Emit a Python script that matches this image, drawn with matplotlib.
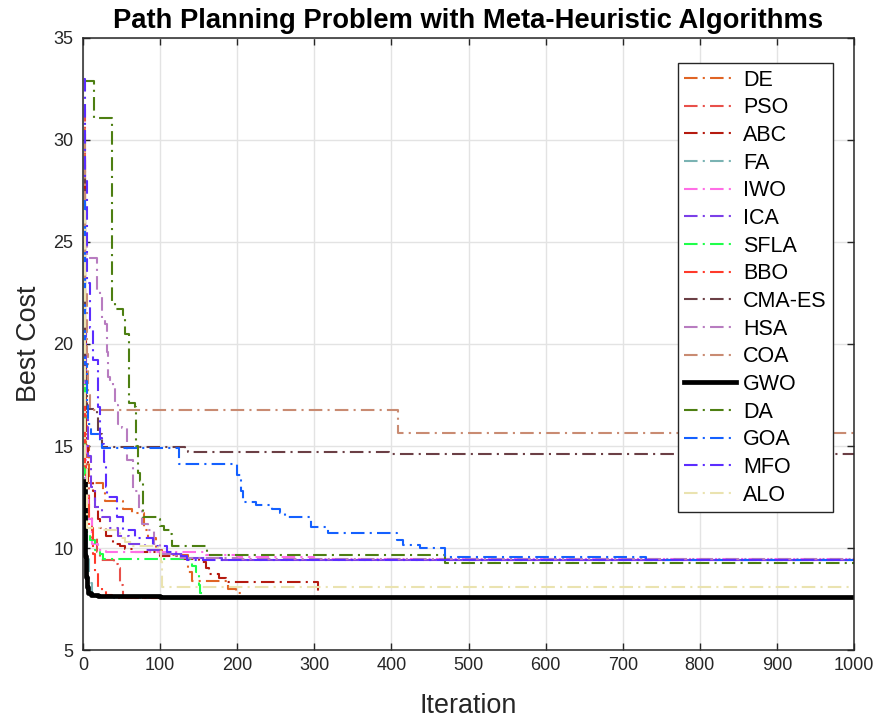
import matplotlib
matplotlib.use("Agg")
import matplotlib.pyplot as plt

plt.rcParams['font.family'] = ['Liberation Sans', 'DejaVu Sans']

# Convergence curves: (iteration, best cost) breakpoints.
names = ["DE", "PSO", "ABC", "FA", "IWO", "ICA", "SFLA", "BBO",
         "CMA-ES", "HSA", "COA", "GWO", "DA", "GOA", "MFO", "ALO"]

de_it = [1, 2, 4, 8, 26, 28, 52, 64, 79, 84, 95, 102, 136, 142, 188, 198, 205, 1000]
de_val = [30.5, 19, 15, 13.2, 12.8, 12.3, 11.9, 11.7, 10.9, 10.5, 9.9, 9.65, 8.8, 8.4, 8.0, 7.8, 7.55, 7.55]

pso_it = [1, 2, 3, 5, 8, 12, 18, 22, 40, 45, 48, 52, 1000]
pso_val = [31.5, 22, 16, 13, 11.5, 10.5, 9.8, 9.4, 9.2, 9.0, 8.2, 7.55, 7.55]

abc_it = [1, 2, 4, 7, 13, 16, 19, 22, 30, 39, 48, 55, 67, 100, 130, 150, 160, 163, 176, 185, 305, 1000]
abc_val = [29, 21, 15, 13.3, 12.8, 12.0, 11.4, 11.0, 10.6, 10.2, 10.1, 9.95, 9.8, 9.6, 9.45, 9.3, 9.0, 8.75, 8.55, 8.35, 7.58, 7.58]

fa_it = [1, 2, 3, 5, 8, 12, 20, 40, 1000]
fa_val = [22, 15, 11.5, 9.5, 8.3, 7.8, 7.6, 7.55, 7.55]

iwo_it = [1, 2, 4, 7, 12, 20, 30, 160, 200, 300, 1000]
iwo_val = [19, 15, 12.5, 11.4, 10.2, 9.9, 9.8, 9.65, 9.55, 9.45, 9.45]

ica_it = [1, 2, 4, 6, 10, 16, 25, 35, 45, 60, 80, 100, 130, 180, 1000]
ica_val = [26, 21, 17, 14.5, 13, 12.0, 11.5, 11.0, 10.6, 10.2, 9.9, 9.7, 9.5, 9.4, 9.4]

sfla_it = [1, 2, 3, 5, 9, 15, 22, 26, 142, 147, 150, 152, 155, 1000]
sfla_val = [18, 14, 12, 10.8, 10.4, 9.9, 9.7, 9.45, 9.1, 8.8, 8.2, 7.8, 7.55, 7.55]

bbo_it = [1, 2, 4, 8, 13, 16, 19, 24, 30, 38, 45, 1000]
bbo_val = [17, 14, 12.5, 11, 9.7, 8.8, 8.1, 7.9, 7.7, 7.6, 7.55, 7.55]

cma_it = [1, 2, 3, 5, 18, 20, 24, 128, 132, 136, 393, 397, 1000]
cma_val = [28.5, 22, 18.5, 16.8, 16.5, 15.6, 14.95, 14.95, 14.85, 14.72, 14.72, 14.62, 14.62]

hsa_it = [1, 3, 5, 16, 18, 22, 24, 28, 31, 33, 35, 39, 41, 46, 50, 57, 65, 73, 77, 84, 92, 100, 120, 200, 1000]
hsa_val = [26.5, 25, 24.2, 24.2, 22.6, 22.4, 21.2, 21.0, 19.6, 18.4, 18.2, 17.9, 17.0, 16.1, 15.9, 14.3, 12.8, 11.9, 11.2, 10.9, 10.2, 9.7, 9.5, 9.45, 9.45]

coa_it = [1, 2, 3, 5, 7, 9, 407, 408, 1000]
coa_val = [30, 26, 22.5, 19.5, 17.5, 16.76, 16.76, 15.62, 15.62]

gwo_it = [1, 2, 3, 4, 5, 7, 10, 20, 100, 1000]
gwo_val = [13.3, 11.2, 9.6, 8.6, 8.1, 7.8, 7.7, 7.65, 7.62, 7.62]

da_it = [1, 14, 38, 42, 52, 54, 60, 67, 69, 71, 74, 78, 97, 100, 105, 113, 115, 161, 470, 1000]
da_val = [32.9, 31.1, 22.0, 21.7, 21.4, 20.5, 17.1, 16.9, 15.0, 13.7, 13.3, 11.5, 11.4, 11.1, 10.9, 10.7, 10.1, 9.66, 9.28, 9.28]

goa_it = [1, 2, 3, 5, 6, 11, 19, 22, 25, 119, 124, 195, 200, 205, 208, 225, 245, 255, 262, 296, 318, 407, 415, 437, 470, 730, 1000]
goa_val = [27, 22, 19, 17, 16.1, 15.6, 15.6, 15.2, 14.9, 14.9, 14.12, 14.12, 13.6, 12.8, 12.25, 12.1, 11.9, 11.7, 11.5, 11.05, 10.72, 10.4, 10.15, 10.0, 9.57, 9.4, 9.4]

mfo_it = [1, 3, 5, 9, 13, 19, 20, 22, 24, 27, 30, 31, 44, 52, 67, 91, 109, 120, 135, 1000]
mfo_val = [33, 28, 23, 20.8, 19.2, 17.3, 16.9, 15.4, 15.1, 14.2, 13.0, 12.5, 11.5, 10.9, 10.5, 10.1, 9.8, 9.6, 9.4, 9.38]

alo_it = [1, 2, 3, 5, 22, 48, 54, 65, 97, 101, 103, 1000]
alo_val = [26.5, 20, 14, 11.0, 10.9, 10.5, 10.3, 10.1, 10.0, 9.3, 8.1, 8.1]

iters = [de_it, pso_it, abc_it, fa_it, iwo_it, ica_it, sfla_it, bbo_it,
         cma_it, hsa_it, coa_it, gwo_it, da_it, goa_it, mfo_it, alo_it]
costs = [de_val, pso_val, abc_val, fa_val, iwo_val, ica_val, sfla_val, bbo_val,
         cma_val, hsa_val, coa_val, gwo_val, da_val, goa_val, mfo_val, alo_val]

colors = ["#E06424", "#E8504A", "#B51A0F", "#7AB3B3", "#FF6EE6", "#7B3FE8",
          "#1FFF4A", "#FF3A2A", "#6B3F45", "#B87CC0", "#C98B72", "#000000",
          "#4D7F12", "#1460FF", "#5B2DFF", "#EAE3B0"]

dashdot = (0, (6.5, 2.5, 1, 2.5))

fig = plt.figure(figsize=(8.84, 7.22), dpi=100)
ax = fig.add_axes([0.0939, 0.0997, 0.8722, 0.8477])

for name, x, y, c in zip(names, iters, costs, colors):
    if name == "GWO":
        ax.plot(x, y, drawstyle="steps-post", color=c, lw=3.4, label=name,
                solid_joinstyle="round")
    else:
        ax.plot(x, y, drawstyle="steps-post", color=c, lw=1.5,
                linestyle=dashdot, label=name)

ax.set_xlim(0, 1000)
ax.set_ylim(5, 35)
ax.set_xticks(range(0, 1001, 100))
ax.set_yticks(range(5, 36, 5))
ax.grid(True, color="#e3e3e3", lw=1.0)
ax.set_axisbelow(True)
ax.tick_params(direction="in", top=True, right=True, length=5, width=1,
               labelsize=13, colors="#262626", labelcolor="#262626")
ax.tick_params(axis="y", pad=7)
ax.tick_params(axis="x", pad=5)
for s in ax.spines.values():
    s.set_color("#262626")
    s.set_linewidth(1.1)

ax.set_xlabel("Iteration", fontsize=19.4, color="#262626", labelpad=14)
ax.set_ylabel("Best Cost", fontsize=19.4, color="#262626", labelpad=8)
ax.set_title("Path Planning Problem with Meta-Heuristic Algorithms",
             fontsize=19.7, fontweight="bold", pad=7)

leg = ax.legend(loc="upper right", bbox_to_anchor=(0.973, 0.959),
                fontsize=15.5, frameon=True, fancybox=False, framealpha=1,
                edgecolor="#262626", borderaxespad=0, handlelength=2.4,
                labelspacing=0.31, handletextpad=0.33, borderpad=0.3)
leg.get_frame().set_linewidth(1.0)

fig.savefig("out.png", dpi=100)
